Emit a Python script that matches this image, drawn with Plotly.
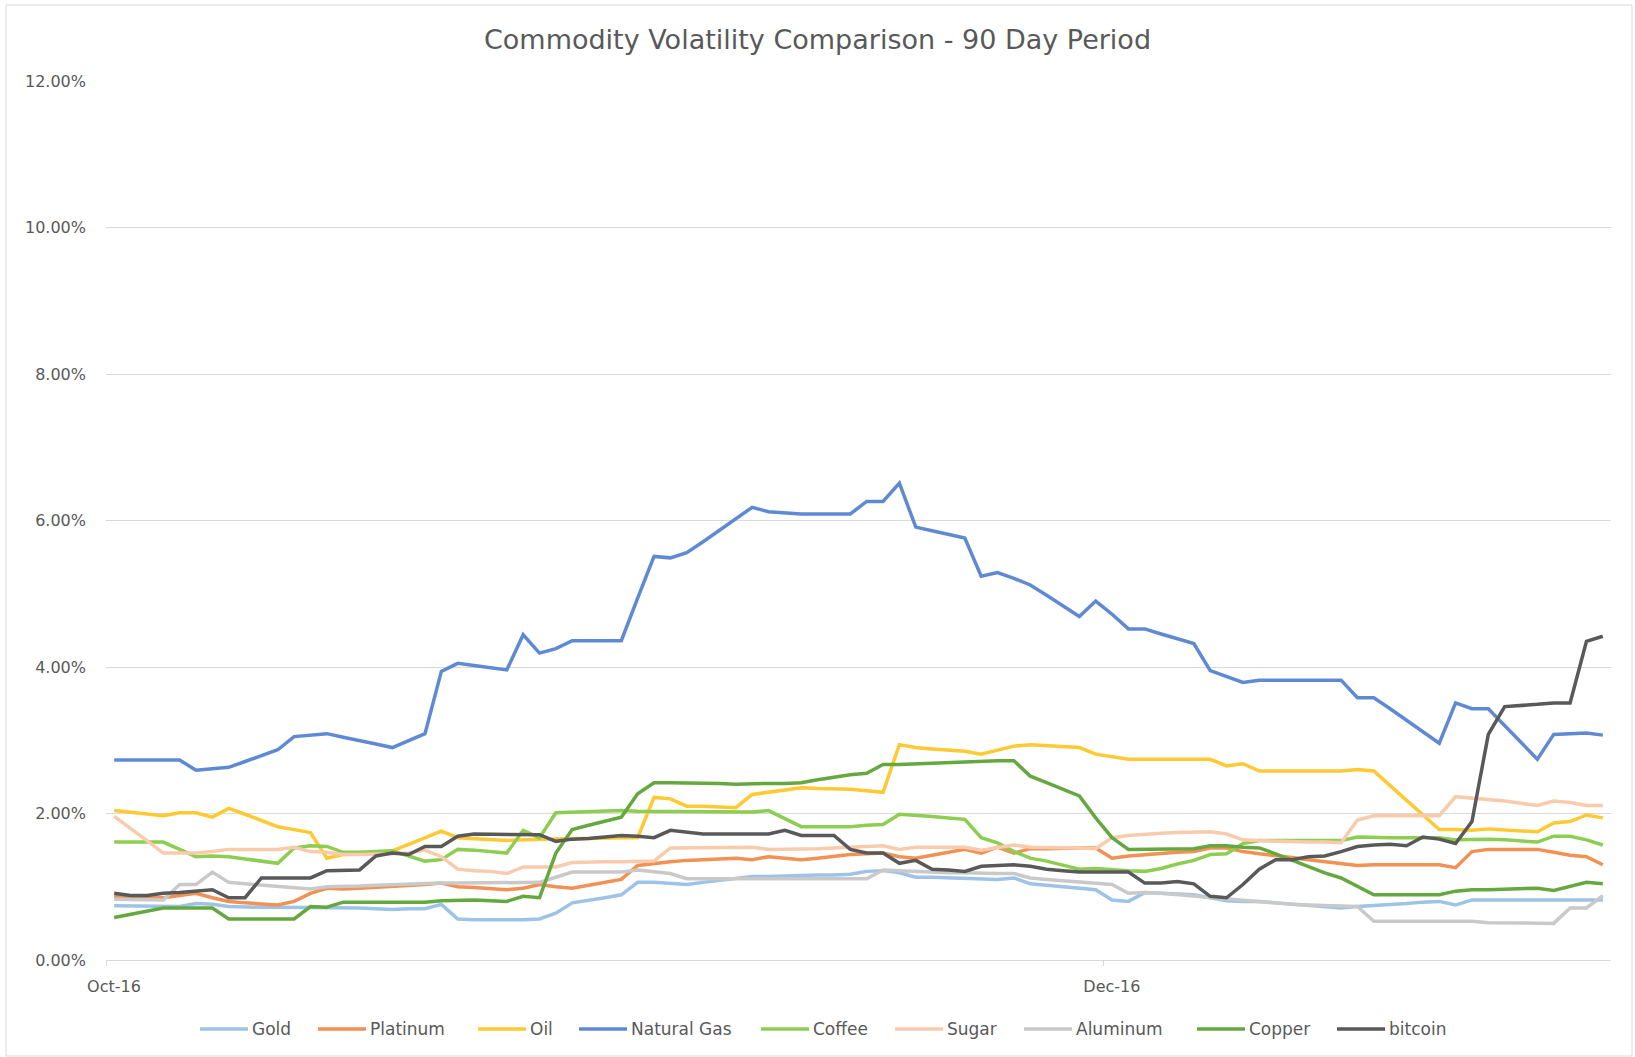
import pandas as pd
import plotly.graph_objects as go

# daily observations, 1 Oct - 31 Dec 2016 (values in %)
dates = pd.date_range("2016-10-01", "2016-12-31", freq="D")

gold = [0.74, 0.74, 0.74, 0.74, 0.73, 0.77, 0.76, 0.73, 0.72, 0.72,
        0.72, 0.72, 0.72, 0.72, 0.72, 0.71, 0.70, 0.69, 0.70, 0.70,
        0.76, 0.56, 0.55, 0.55, 0.54, 0.55, 0.56, 0.64, 0.78, 0.81,
        0.85, 0.89, 1.06, 1.06, 1.05, 1.03, 1.06, 1.09, 1.12, 1.14,
        1.14, 1.15, 1.15, 1.16, 1.16, 1.17, 1.21, 1.22, 1.19, 1.13,
        1.13, 1.12, 1.12, 1.10, 1.10, 1.12, 1.04, 1.02, 1.00, 0.98,
        0.96, 0.82, 0.80, 0.92, 0.91, 0.90, 0.89, 0.85, 0.81, 0.80,
        0.80, 0.78, 0.76, 0.74, 0.73, 0.71, 0.73, 0.74, 0.76, 0.77,
        0.79, 0.80, 0.75, 0.82, 0.82, 0.82, 0.82, 0.82, 0.82, 0.82,
        0.82, 0.82]

platinum = [0.87, 0.86, 0.86, 0.85, 0.88, 0.91, 0.85, 0.80, 0.78, 0.77,
            0.75, 0.80, 0.91, 0.98, 0.97, 0.98, 0.99, 1.00, 1.02, 1.03,
            1.05, 1.00, 0.99, 0.97, 0.96, 0.98, 1.03, 1.00, 0.98, 1.02,
            1.06, 1.10, 1.29, 1.32, 1.34, 1.36, 1.37, 1.38, 1.39, 1.37,
            1.41, 1.39, 1.37, 1.39, 1.42, 1.44, 1.45, 1.46, 1.41, 1.39,
            1.43, 1.47, 1.51, 1.46, 1.54, 1.46, 1.52, 1.52, 1.53, 1.53,
            1.53, 1.39, 1.42, 1.44, 1.45, 1.47, 1.48, 1.53, 1.53, 1.48,
            1.45, 1.43, 1.40, 1.37, 1.34, 1.31, 1.29, 1.30, 1.30, 1.30,
            1.30, 1.30, 1.26, 1.48, 1.51, 1.51, 1.51, 1.51, 1.47, 1.43,
            1.41, 1.30]

oil = [2.04, 2.02, 2.00, 1.97, 2.01, 2.01, 1.95, 2.07, 1.99, 1.90,
       1.82, 1.78, 1.74, 1.39, 1.44, 1.45, 1.47, 1.49, 1.58, 1.67,
       1.76, 1.67, 1.66, 1.64, 1.63, 1.64, 1.65, 1.65, 1.66, 1.66,
       1.67, 1.67, 1.67, 2.22, 2.20, 2.10, 2.10, 2.09, 2.08, 2.26,
       2.29, 2.32, 2.35, 2.34, 2.34, 2.33, 2.31, 2.29, 2.94, 2.90,
       2.88, 2.87, 2.85, 2.81, 2.86, 2.92, 2.94, 2.93, 2.92, 2.90,
       2.81, 2.78, 2.74, 2.74, 2.74, 2.74, 2.74, 2.74, 2.65, 2.68,
       2.58, 2.58, 2.58, 2.58, 2.58, 2.58, 2.60, 2.58, 2.38, 2.18,
       1.98, 1.78, 1.78, 1.77, 1.79, 1.78, 1.76, 1.75, 1.87, 1.89,
       1.98, 1.94]

natural_gas = [2.73, 2.73, 2.73, 2.73, 2.73, 2.59, 2.61, 2.63, 2.71, 2.79,
               2.87, 3.05, 3.07, 3.09, 3.04, 3.00, 2.95, 2.90, 3.00, 3.09,
               3.94, 4.05, 4.02, 3.99, 3.96, 4.44, 4.19, 4.25, 4.36, 4.36,
               4.36, 4.36, 4.94, 5.51, 5.49, 5.56, 5.71, 5.87, 6.02, 6.18,
               6.12, 6.10, 6.09, 6.09, 6.09, 6.09, 6.26, 6.26, 6.51, 5.91,
               5.86, 5.81, 5.76, 5.24, 5.29, 5.21, 5.12, 4.98, 4.84, 4.69,
               4.90, 4.72, 4.52, 4.52, 4.45, 4.38, 4.32, 3.95, 3.87, 3.79,
               3.82, 3.82, 3.82, 3.82, 3.82, 3.82, 3.58, 3.58, 3.43, 3.27,
               3.12, 2.96, 3.51, 3.43, 3.43, 3.20, 2.97, 2.74, 3.08, 3.09,
               3.10, 3.07]

coffee = [1.61, 1.61, 1.61, 1.61, 1.51, 1.41, 1.42, 1.41, 1.38, 1.35,
          1.32, 1.53, 1.56, 1.55, 1.47, 1.47, 1.48, 1.49, 1.42, 1.35,
          1.37, 1.51, 1.50, 1.48, 1.46, 1.77, 1.67, 2.01, 2.02, 2.03,
          2.03, 2.04, 2.03, 2.03, 2.03, 2.03, 2.03, 2.03, 2.03, 2.02,
          2.04, 1.93, 1.82, 1.82, 1.82, 1.82, 1.84, 1.85, 1.99, 1.98,
          1.96, 1.94, 1.92, 1.67, 1.60, 1.48, 1.39, 1.35, 1.29, 1.24,
          1.25, 1.23, 1.22, 1.21, 1.25, 1.31, 1.36, 1.44, 1.45, 1.59,
          1.63, 1.63, 1.63, 1.63, 1.63, 1.63, 1.68, 1.67, 1.67, 1.67,
          1.67, 1.67, 1.64, 1.65, 1.65, 1.64, 1.62, 1.61, 1.69, 1.69,
          1.64, 1.57]

sugar = [1.96, 1.80, 1.63, 1.46, 1.46, 1.46, 1.48, 1.51, 1.51, 1.51,
         1.51, 1.54, 1.48, 1.47, 1.44, 1.44, 1.44, 1.45, 1.46, 1.50,
         1.41, 1.24, 1.22, 1.21, 1.18, 1.27, 1.27, 1.27, 1.33, 1.34,
         1.34, 1.34, 1.34, 1.35, 1.53, 1.53, 1.53, 1.53, 1.53, 1.54,
         1.51, 1.51, 1.51, 1.52, 1.53, 1.54, 1.55, 1.56, 1.51, 1.54,
         1.54, 1.54, 1.54, 1.50, 1.54, 1.57, 1.54, 1.54, 1.54, 1.53,
         1.52, 1.67, 1.70, 1.72, 1.73, 1.74, 1.75, 1.75, 1.72, 1.64,
         1.63, 1.62, 1.62, 1.61, 1.61, 1.60, 1.91, 1.97, 1.97, 1.97,
         1.97, 1.97, 2.23, 2.21, 2.20, 2.17, 2.14, 2.11, 2.17, 2.15,
         2.11, 2.11]

aluminum = [0.83, 0.83, 0.82, 0.82, 1.03, 1.03, 1.20, 1.06, 1.04, 1.02,
            1.00, 0.98, 0.97, 1.00, 1.00, 1.01, 1.02, 1.03, 1.03, 1.04,
            1.05, 1.05, 1.05, 1.05, 1.05, 1.06, 1.06, 1.13, 1.20, 1.20,
            1.20, 1.20, 1.23, 1.21, 1.18, 1.11, 1.11, 1.11, 1.11, 1.11,
            1.11, 1.11, 1.11, 1.11, 1.11, 1.11, 1.11, 1.23, 1.22, 1.20,
            1.20, 1.19, 1.19, 1.18, 1.18, 1.18, 1.12, 1.10, 1.08, 1.06,
            1.05, 1.03, 0.91, 0.92, 0.91, 0.89, 0.87, 0.85, 0.83, 0.82,
            0.79, 0.77, 0.76, 0.75, 0.74, 0.73, 0.73, 0.53, 0.53, 0.53,
            0.53, 0.53, 0.53, 0.53, 0.51, 0.51, 0.51, 0.51, 0.50, 0.71,
            0.71, 0.88]

copper = [0.58, 0.62, 0.67, 0.71, 0.71, 0.71, 0.71, 0.56, 0.56, 0.56,
          0.56, 0.56, 0.73, 0.72, 0.79, 0.79, 0.79, 0.79, 0.79, 0.79,
          0.81, 0.82, 0.82, 0.81, 0.80, 0.87, 0.85, 1.46, 1.78, 1.84,
          1.89, 1.95, 2.27, 2.42, 2.42, 2.42, 2.42, 2.41, 2.40, 2.41,
          2.41, 2.41, 2.42, 2.46, 2.50, 2.53, 2.55, 2.67, 2.67, 2.68,
          2.68, 2.69, 2.70, 2.72, 2.72, 2.72, 2.51, 2.42, 2.33, 2.24,
          1.94, 1.67, 1.51, 1.51, 1.51, 1.51, 1.52, 1.56, 1.56, 1.54,
          1.53, 1.45, 1.36, 1.27, 1.19, 1.12, 1.00, 0.89, 0.89, 0.89,
          0.89, 0.89, 0.94, 0.96, 0.96, 0.97, 0.97, 0.98, 0.95, 1.01,
          1.06, 1.04]

bitcoin = [0.91, 0.88, 0.88, 0.91, 0.92, 0.94, 0.96, 0.85, 0.85, 1.12,
           1.12, 1.12, 1.12, 1.22, 1.23, 1.23, 1.42, 1.46, 1.44, 1.55,
           1.55, 1.69, 1.72, 1.72, 1.72, 1.72, 1.71, 1.62, 1.65, 1.66,
           1.68, 1.70, 1.69, 1.67, 1.77, 1.74, 1.72, 1.72, 1.72, 1.72,
           1.72, 1.77, 1.70, 1.70, 1.70, 1.51, 1.46, 1.46, 1.32, 1.36,
           1.24, 1.23, 1.21, 1.28, 1.29, 1.30, 1.28, 1.24, 1.22, 1.20,
           1.20, 1.20, 1.20, 1.05, 1.05, 1.07, 1.04, 0.87, 0.85, 1.03,
           1.24, 1.37, 1.37, 1.41, 1.42, 1.48, 1.55, 1.57, 1.58, 1.56,
           1.68, 1.65, 1.59, 1.89, 3.08, 3.46, 3.47, 3.49, 3.51, 3.51,
           4.35, 4.42]

names = ["Gold", "Platinum", "Oil", "Natural Gas", "Coffee", "Sugar",
         "Aluminum", "Copper", "bitcoin"]
values = [gold, platinum, oil, natural_gas, coffee, sugar, aluminum, copper, bitcoin]
colors = ["#9DC3E6", "#F19153", "#FFC933", "#5F8AD3", "#8DCE52",
          "#F8CBAD", "#C9C9C9", "#65A83F", "#595959"]

# plot area in pixels (figure is 1635 x 1057)
L, R, T, B = 106, 1611, 81, 960
W, H = R - L, B - T

# legend entries: left edge of each swatch in px (Excel style, long swatches)
legend_x = [200, 318, 478, 579, 761, 895, 1024, 1197, 1337]
swatch_len = 48
legend_y = 1029

grey = "#D9D9D9"
text_col = "#595959"

fig = go.Figure()
for name, vals, color in zip(names, values, colors):
    fig.add_trace(go.Scatter(x=dates, y=vals, name=name, mode="lines",
                             line=dict(color=color, width=3.5)))


def px_x(p):
    return (p - L) / W


def px_y(p):
    return (B - p) / H


shapes = [dict(type="rect", xref="paper", yref="paper",
               x0=px_x(6), x1=px_x(1632), y0=px_y(1056), y1=px_y(5),
               line=dict(color=grey, width=1), layer="below")]
annotations = []
for name, color, lx in zip(names, colors, legend_x):
    shapes.append(dict(type="line", xref="paper", yref="paper",
                       x0=px_x(lx), x1=px_x(lx + swatch_len),
                       y0=px_y(legend_y), y1=px_y(legend_y),
                       line=dict(color=color, width=3.5)))
    annotations.append(dict(text=name, xref="paper", yref="paper",
                            x=px_x(lx + swatch_len + 2), y=px_y(legend_y),
                            xanchor="left", yanchor="middle", showarrow=False,
                            font=dict(size=17, color=text_col)))

fig.update_layout(
    width=1635,
    height=1057,
    margin=dict(l=L, r=1635 - R, t=T, b=1057 - B),
    paper_bgcolor="white",
    plot_bgcolor="white",
    font=dict(family="DejaVu Sans", size=16, color=text_col),
    title=dict(text="Commodity Volatility Comparison - 90 Day Period",
               font=dict(size=27, color=text_col),
               xref="container", x=0.5, xanchor="center",
               yref="container", y=1 - 40 / 1057, yanchor="middle"),
    showlegend=False,
    xaxis=dict(range=["2016-09-30 12:00", "2016-12-31 12:00"],
               tickvals=["2016-09-30 12:00", "2016-11-30 12:00"],
               ticktext=["Oct-16", "Dec-16"],
               ticks="outside", ticklen=5, tickcolor=grey,
               ticklabelshift=8, ticklabelstandoff=7,
               showgrid=False, zeroline=False,
               showline=True, linecolor=grey, linewidth=1),
    yaxis=dict(range=[0, 12], tick0=0, dtick=2,
               tickformat=".2f", ticksuffix="%",
               showgrid=True, gridcolor=grey, gridwidth=1,
               zeroline=False, showline=False, ticks="",
               ticklabelstandoff=19),
    shapes=shapes,
    annotations=annotations,
)

fig.write_html("out.html", config={"displayModeBar": False},
               post_script="document.body.style.margin='0';document.body.style.overflow='hidden';")
